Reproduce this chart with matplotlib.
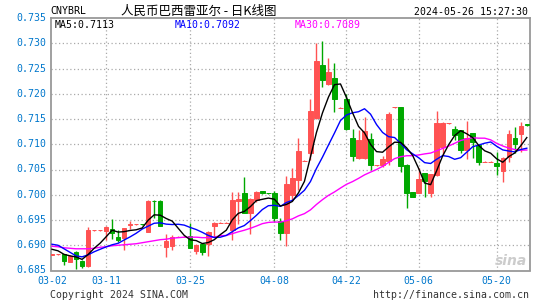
import numpy as np
import pandas as pd
import matplotlib
matplotlib.use("Agg")
import matplotlib.pyplot as plt
import matplotlib.transforms as mtransforms

# daily candles 2024-03-02 .. 2024-05-2x (open, high, low, close)
opens = [0.68815, 0.6882, 0.6882, 0.6867, 0.6887, 0.6869, 0.6858, 0.6930, 0.6930, 0.6929,
         0.6932, 0.6916, 0.6915, 0.6941, 0.6942, 0.69425, 0.6927, 0.6988, 0.6988, 0.6897,
         0.6899, 0.6917, 0.6917, 0.6918, 0.6889, 0.6902, 0.6902, 0.6938, 0.6945, 0.6945,
         0.6930, 0.6988, 0.7004, 0.6964, 0.6990, 0.7007, 0.70035, 0.7003, 0.6948, 0.6925,
         0.6999, 0.7029, 0.7067, 0.7082, 0.7151, 0.7257, 0.7219, 0.7232, 0.7172, 0.7190,
         0.7113, 0.7072, 0.7073, 0.7110, 0.7058, 0.7059, 0.7067, 0.7173, 0.7173, 0.7059,
         0.7005, 0.7004, 0.7043, 0.7004, 0.7039, 0.7094, 0.7142, 0.7130, 0.7128, 0.7089,
         0.7122, 0.7099, 0.7065, 0.7065, 0.7062, 0.7048, 0.7075, 0.7112, 0.7120, 0.7140]
highs = [0.6883, 0.6883, 0.6883, 0.6880, 0.6888, 0.6870, 0.6937, 0.6931, 0.6931, 0.6938,
         0.6952, 0.6930, 0.6935, 0.6949, 0.6943, 0.6943, 0.6989, 0.6990, 0.6989, 0.6922,
         0.6920, 0.6918, 0.6918, 0.6945, 0.6902, 0.6903, 0.6928, 0.6946, 0.6946, 0.6946,
         0.7005, 0.7005, 0.7036, 0.6994, 0.7008, 0.7008, 0.7004, 0.7008, 0.6954, 0.7038,
         0.7052, 0.7112, 0.7068, 0.7189, 0.7300, 0.7305, 0.7270, 0.7260, 0.7173, 0.7200,
         0.7130, 0.7128, 0.7153, 0.7122, 0.7059, 0.7077, 0.7163, 0.7174, 0.7174, 0.7060,
         0.7006, 0.7052, 0.7044, 0.7042, 0.7165, 0.7144, 0.7143, 0.7136, 0.7129, 0.7146,
         0.7123, 0.7100, 0.7066, 0.7066, 0.7085, 0.7074, 0.7128, 0.7135, 0.7145, 0.7141]
lows = [0.6881, 0.6881, 0.6861, 0.6866, 0.6852, 0.6854, 0.6857, 0.6929, 0.6929, 0.6910,
        0.6912, 0.6907, 0.6891, 0.6932, 0.6941, 0.6941, 0.6926, 0.6953, 0.6938, 0.6877,
        0.6891, 0.6916, 0.6916, 0.6895, 0.6882, 0.6881, 0.6879, 0.6917, 0.6944, 0.6944,
        0.6910, 0.6942, 0.6963, 0.6922, 0.6986, 0.7002, 0.7002, 0.6947, 0.6910, 0.6899,
        0.6990, 0.7009, 0.7066, 0.7069, 0.7150, 0.7213, 0.7218, 0.7164, 0.7171, 0.7128,
        0.7067, 0.7070, 0.7071, 0.7049, 0.7057, 0.7054, 0.7058, 0.7172, 0.7046, 0.6974,
        0.6995, 0.7003, 0.6995, 0.6995, 0.7038, 0.7079, 0.7141, 0.7108, 0.7082, 0.7071,
        0.7072, 0.7059, 0.7064, 0.7064, 0.7039, 0.7026, 0.7064, 0.7082, 0.7085, 0.7137]
closes = [0.6882, 0.6882, 0.6869, 0.6879, 0.6872, 0.6858, 0.6930, 0.6930, 0.6930, 0.69355,
          0.6924, 0.6911, 0.6934, 0.6942, 0.6942, 0.6942, 0.6988, 0.6987, 0.6939, 0.6909,
          0.6916, 0.6917, 0.6917, 0.6895, 0.6901, 0.6887, 0.6927, 0.6945, 0.6945, 0.6945,
          0.6990, 0.6991, 0.6964, 0.6992, 0.7005, 0.7003, 0.7003, 0.6953, 0.6924, 0.7021,
          0.7033, 0.7087, 0.7067, 0.7165, 0.7264, 0.7227, 0.7244, 0.7190, 0.7172, 0.7130,
          0.7077, 0.7108, 0.7126, 0.7058, 0.7058, 0.7071, 0.7160, 0.7173, 0.7057, 0.7004,
          0.6996, 0.7031, 0.7028, 0.7041, 0.7142, 0.7143, 0.7142, 0.7118, 0.7089, 0.7112,
          0.7105, 0.7064, 0.7065, 0.7065, 0.7056, 0.7072, 0.7120, 0.7101, 0.7136, 0.71375]

# moving average values before enough visible days exist
ma5_head = [0.6892, 0.6889, 0.6882, 0.6879]
ma10_head = [0.6902, 0.6900, 0.6893, 0.6886, 0.6879, 0.6877, 0.6881, 0.6887, 0.6892]
ma30_head = [0.6898, 0.6897, 0.6895, 0.6894, 0.6893, 0.6893, 0.6893, 0.6894, 0.6896, 0.6897,
             0.6899, 0.6900, 0.6901, 0.6902, 0.6903, 0.6905, 0.6907, 0.6909, 0.6911, 0.6912,
             0.6914, 0.6915, 0.6916, 0.6916, 0.6916, 0.6915, 0.6915, 0.6916, 0.6919]

tick_idx = [0, 9, 23, 37, 49, 61, 74]
tick_labels = ["03-02", "03-11", "03-25", "04-08", "04-22", "05-06", "05-20"]
y_ticks = [0.685, 0.690, 0.695, 0.700, 0.705, 0.710, 0.715, 0.720, 0.725, 0.730, 0.735]

UP = "#FF5252"
DOWN = "#00A800"
MONO = "DejaVu Sans Mono"


def moving_avg(vals, n, head):
    s = pd.Series(vals).rolling(n).mean().values
    s[:len(head)] = head
    return s


def main():
    df = pd.DataFrame({"O": opens, "H": highs, "L": lows, "C": closes})
    x = np.arange(len(df))
    ma5 = moving_avg(closes, 5, ma5_head)
    ma10 = moving_avg(closes, 10, ma10_head)
    ma30 = moving_avg(closes, 30, ma30_head)

    W, H = 545, 300
    fig = plt.figure(figsize=(W / 100, H / 100), dpi=100)
    ax = fig.add_axes([50.5 / W, 29.5 / H, 479 / W, 252.5 / H])
    ax.set_xlim(-0.25, 79.45)
    ax.set_ylim(0.685, 0.735)

    # grid
    for v in y_ticks[1:-1]:
        ax.axhline(v, color="#AAAAAA", linestyle=(0, (1, 2)), linewidth=0.9, zorder=0)
    for i in tick_idx[1:]:
        ax.axvline(i, color="#AAAAAA", linestyle=(0, (1, 2)), linewidth=0.9, zorder=0)

    # candles
    colors = [UP if c >= o else DOWN for o, c in zip(df["O"], df["C"])]
    ax.vlines(x, df["L"], df["H"], colors=colors, linewidth=1.0, zorder=2)
    bottoms = np.minimum(df["O"], df["C"])
    heights = np.abs(df["C"] - df["O"])
    ax.bar(x, heights, bottom=bottoms, width=0.75, color=colors,
           edgecolor=colors, linewidth=0.7, zorder=3)

    # moving averages
    ax.plot(x, ma30, color="#FF00FF", linewidth=1.0, zorder=4)
    ax.plot(x, ma10, color="#0000FF", linewidth=1.0, zorder=4)
    ax.plot(x, ma5, color="black", linewidth=1.0, zorder=5)

    for sp in ax.spines.values():
        sp.set_color("#999999")
        sp.set_linewidth(1.3)
    ax.set_xticks([])
    ax.set_yticks([])

    # axis labels
    ytr = mtransforms.blended_transform_factory(ax.transAxes, ax.transData)
    for v in y_ticks:
        ax.text(-0.009, v, "%.3f" % v, transform=ytr, ha="right", va="center",
                color="#0077CC", fontsize=7.1, family=MONO)
    xtr = mtransforms.blended_transform_factory(ax.transData, ax.transAxes)
    for i, lab in zip(tick_idx, tick_labels):
        ax.text(i, -0.042, lab, transform=xtr, ha="center", va="center",
                color="#0077CC", fontsize=7.1, family=MONO)

    # MA legend
    ax.text(4.5 / 479, 1 - 7 / 252.5, "MA5:%.4f" % ma5[-1], transform=ax.transAxes,
            ha="left", va="center", color="black", fontsize=7.1, family=MONO)
    ax.text(124.5 / 479, 1 - 7 / 252.5, "MA10:%.4f" % ma10[-1], transform=ax.transAxes,
            ha="left", va="center", color="#0000FF", fontsize=7.1, family=MONO)
    ax.text(244.5 / 479, 1 - 7 / 252.5, "MA30:%.4f" % ma30[-1], transform=ax.transAxes,
            ha="left", va="center", color="#FF00FF", fontsize=7.1, family=MONO)

    # header / footer
    fig.text(50.4 / W, 1 - 11.5 / H, "CNYBRL", ha="left", va="center",
             fontsize=7.1, family=MONO, color="black")
    fig.text(121 / W, 1 - 11 / H, "人民币巴西雷亚尔 - 日K线图", ha="left", va="center",
             fontsize=9, family=["Noto Sans CJK SC", "DejaVu Sans"], color="black")
    fig.text(528.5 / W, 1 - 12 / H, "2024-05-26 15:27:30", ha="right", va="center",
             fontsize=7.1, family=MONO, color="black")
    fig.text(49.7 / W, 1 - 295 / H, "Copyright 2024 SINA.COM", ha="left", va="center",
             fontsize=7.1, family=MONO, color="#333333")
    fig.text(529 / W, 1 - 295 / H, "http://finance.sina.com.cn", ha="right", va="center",
             fontsize=7.1, family=MONO, color="#333333")
    fig.text(511 / W, 1 - 261 / H, "sina", ha="center", va="center", fontsize=10,
             fontweight="bold", style="italic", color="#CCCCCC", zorder=1)

    fig.savefig("out.png", dpi=100)


if __name__ == "__main__":
    main()
